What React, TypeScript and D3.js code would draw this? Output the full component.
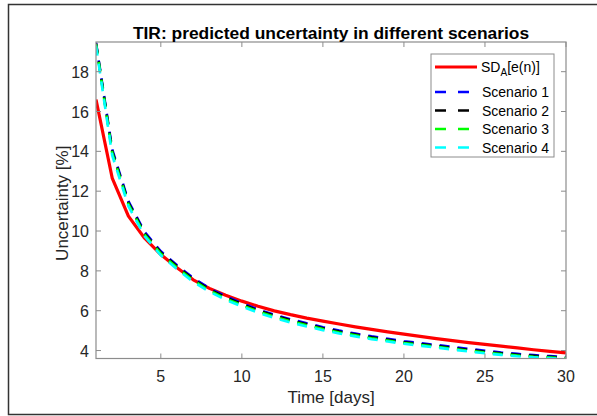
import React from "react";
import * as d3 from "d3";

const days = Array.from({ length: 30 }, (_, i) => i + 1);

const sdA = [16.6, 12.66, 10.75, 9.64, 8.82, 8.16, 7.55, 7.12, 6.78, 6.48, 6.22, 5.99, 5.8, 5.63, 5.48, 5.33, 5.19, 5.06, 4.94, 4.82, 4.71, 4.6, 4.5, 4.4, 4.31, 4.22, 4.13, 4.04, 3.96, 3.88];
const scenario1 = [19.46, 14.1, 11.5, 9.95, 8.98, 8.28, 7.64, 7.12, 6.72, 6.38, 6.06, 5.8, 5.57, 5.37, 5.17, 5.0, 4.85, 4.71, 4.59, 4.47, 4.37, 4.28, 4.18, 4.08, 3.99, 3.9, 3.83, 3.77, 3.72, 3.68];
const scenario2 = [19.42, 14.0, 11.42, 9.88, 8.92, 8.22, 7.58, 7.07, 6.67, 6.33, 6.01, 5.75, 5.52, 5.32, 5.12, 4.95, 4.8, 4.66, 4.54, 4.42, 4.32, 4.23, 4.13, 4.03, 3.94, 3.86, 3.79, 3.73, 3.68, 3.64];
const scenario3 = [19.38, 13.92, 11.35, 9.82, 8.86, 8.16, 7.52, 7.01, 6.61, 6.27, 5.96, 5.7, 5.47, 5.27, 5.08, 4.91, 4.76, 4.62, 4.5, 4.38, 4.28, 4.19, 4.09, 3.99, 3.9, 3.82, 3.75, 3.69, 3.65, 3.61];
const scenario4 = [19.3, 13.8, 11.25, 9.74, 8.78, 8.08, 7.45, 6.95, 6.55, 6.21, 5.9, 5.64, 5.41, 5.21, 5.02, 4.86, 4.71, 4.57, 4.45, 4.34, 4.24, 4.15, 4.05, 3.95, 3.86, 3.78, 3.71, 3.66, 3.62, 3.58];

const xTicks = [5, 10, 15, 20, 25, 30];
const yTicks = [4, 6, 8, 10, 12, 14, 16, 18];

const seriesNames = ["Scenario 1", "Scenario 2", "Scenario 3", "Scenario 4"];
const seriesColors = ["#0000ff", "#000000", "#00ff00", "#00ffff"];
const seriesValues = [scenario1, scenario2, scenario3, scenario4];

const titleText = "TIR: predicted uncertainty in different scenarios";
const xLabel = "Time [days]";
const yLabel = "Uncertainty [%]";

export default function App() {
  const W = 597, H = 416;
  const L = 96, R = 566, T = 42, B = 358.5;
  const x = d3.scaleLinear().domain([1, 30]).range([L, R]);
  const y = d3.scaleLinear().domain([3.6, 19.49]).range([B, T]);
  const line = d3.line<number>().x((_, i) => x(days[i])).y((v) => y(v));
  const font = "'Liberation Sans', Arial, Helvetica, sans-serif";
  const axisCol = "#8c8c8c";
  const textCol = "#262626";
  const lgX = 431, lgY = 54, lgW = 123, lgH = 103;
  const rowY = [67, 92, 110.5, 129, 147.5];

  return (
    <svg width={W} height={H} style={{ position: "absolute", left: 0, top: 0, background: "#fff" }} fontFamily={font}>
      <rect x={0} y={0} width={W} height={H} fill="#fff" />
      <path d={`M${W + 5},4.5 H8.5 V414.5 H${W + 5}`} fill="none" stroke="#333" strokeWidth={1.5} />
      <defs>
        <clipPath id="plotclip">
          <rect x={L} y={T} width={R - L} height={B - T} />
        </clipPath>
      </defs>
      <g clipPath="url(#plotclip)">
        <path d={line(sdA) || ""} fill="none" stroke="#ff0000" strokeWidth={3.2} strokeLinejoin="round" />
        {seriesValues.map((vals, k) => (
          <path key={k} d={line(vals) || ""} fill="none" stroke={seriesColors[k]} strokeWidth={2.6} strokeDasharray="10,8" />
        ))}
      </g>
      <rect x={L} y={T} width={R - L} height={B - T} fill="none" stroke={axisCol} strokeWidth={1.2} />
      {xTicks.map((t) => (
        <g key={"x" + t}>
          <line x1={x(t)} x2={x(t)} y1={B} y2={B - 5} stroke={axisCol} />
          <line x1={x(t)} x2={x(t)} y1={T} y2={T + 5} stroke={axisCol} />
          <text x={x(t)} y={381.5} textAnchor="middle" fontSize={16} fill={textCol}>{t}</text>
        </g>
      ))}
      {yTicks.map((t) => (
        <g key={"y" + t}>
          <line x1={L} x2={L + 5} y1={y(t)} y2={y(t)} stroke={axisCol} />
          <line x1={R} x2={R - 5} y1={y(t)} y2={y(t)} stroke={axisCol} />
          <text x={89} y={y(t) + 6} textAnchor="end" fontSize={16} fill={textCol}>{t}</text>
        </g>
      ))}
      <text x={(L + R) / 2} y={403} textAnchor="middle" fontSize={17} fill={textCol}>{xLabel}</text>
      <text transform={`translate(68,${(T + B) / 2 + 3}) rotate(-90)`} textAnchor="middle" fontSize={17} fill={textCol}>{yLabel}</text>
      <text x={(L + R) / 2} y={38.5} textAnchor="middle" fontSize={17.4} fontWeight="bold" fill="#000">{titleText}</text>
      <rect x={lgX} y={lgY} width={lgW} height={lgH} fill="#fff" stroke="#8c8c8c" strokeWidth={1} />
      <line x1={435} x2={477} y1={rowY[0]} y2={rowY[0]} stroke="#ff0000" strokeWidth={3.2} />
      <text x={481} y={rowY[0] + 5} fontSize={14} fill="#000">
        SD<tspan fontSize={10} dy={4}>A</tspan><tspan dy={-4}>[e(n)]</tspan>
      </text>
      {seriesNames.map((n, k) => (
        <g key={n}>
          <line x1={435} x2={477} y1={rowY[k + 1]} y2={rowY[k + 1]} stroke={seriesColors[k]} strokeWidth={2.6} strokeDasharray="11,12" />
          <text x={482} y={rowY[k + 1] + 5} fontSize={14} fill="#000">{n}</text>
        </g>
      ))}
    </svg>
  );
}
